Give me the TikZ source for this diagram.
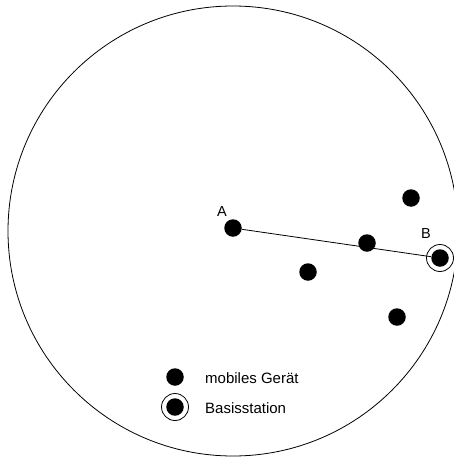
\documentclass[tikz,border=0pt]{standalone}
\usepackage{fontspec}
\setmainfont{Liberation Sans}
\begin{document}
\begin{tikzpicture}[x=1pt,y=-1pt,
  device/.style={circle,fill=black,inner sep=0pt,minimum size=17.5pt},
  ring/.style={circle,draw=black,line width=0.8pt,inner sep=0pt,minimum size=27pt},
  lbl/.style={font=\fontsize{14.5}{16}\selectfont,inner sep=0pt},
  legendtext/.style={font=\fontsize{15}{17}\selectfont,inner sep=0pt,anchor=west}]
\useasboundingbox (0,0) rectangle (454,458);
\begin{scope}
\clip (0,0) rectangle (454,458);
% coverage area
\node[circle,draw=black,line width=0.8pt,inner sep=0pt,minimum size=450pt] (cell) at (233,231) {};
\end{scope}
% mobile devices
\node[device] (A) at (233,228) {};
\node[device] (d1) at (411,198) {};
\node[device] (d2) at (367,243) {};
\node[device] (d3) at (308,272) {};
\node[device] (d4) at (397,317) {};
% base station
\node[ring] (Bring) at (440,258) {};
\node[device] (B) at (440,258) {};
\draw[line width=0.8pt] (A) -- (B);
\node[lbl] (la) at (222,212) {A};
\node[lbl] (lb) at (426,234) {B};
% legend
\node[device] (leg1) at (175,377) {};
\node[ring] (leg2ring) at (175,407) {};
\node[device] (leg2) at (175,407) {};
\node[legendtext] (t1) at (205,378) {mobiles Gerät};
\node[legendtext] (t2) at (205,408) {Basisstation};
\end{tikzpicture}
\end{document}
